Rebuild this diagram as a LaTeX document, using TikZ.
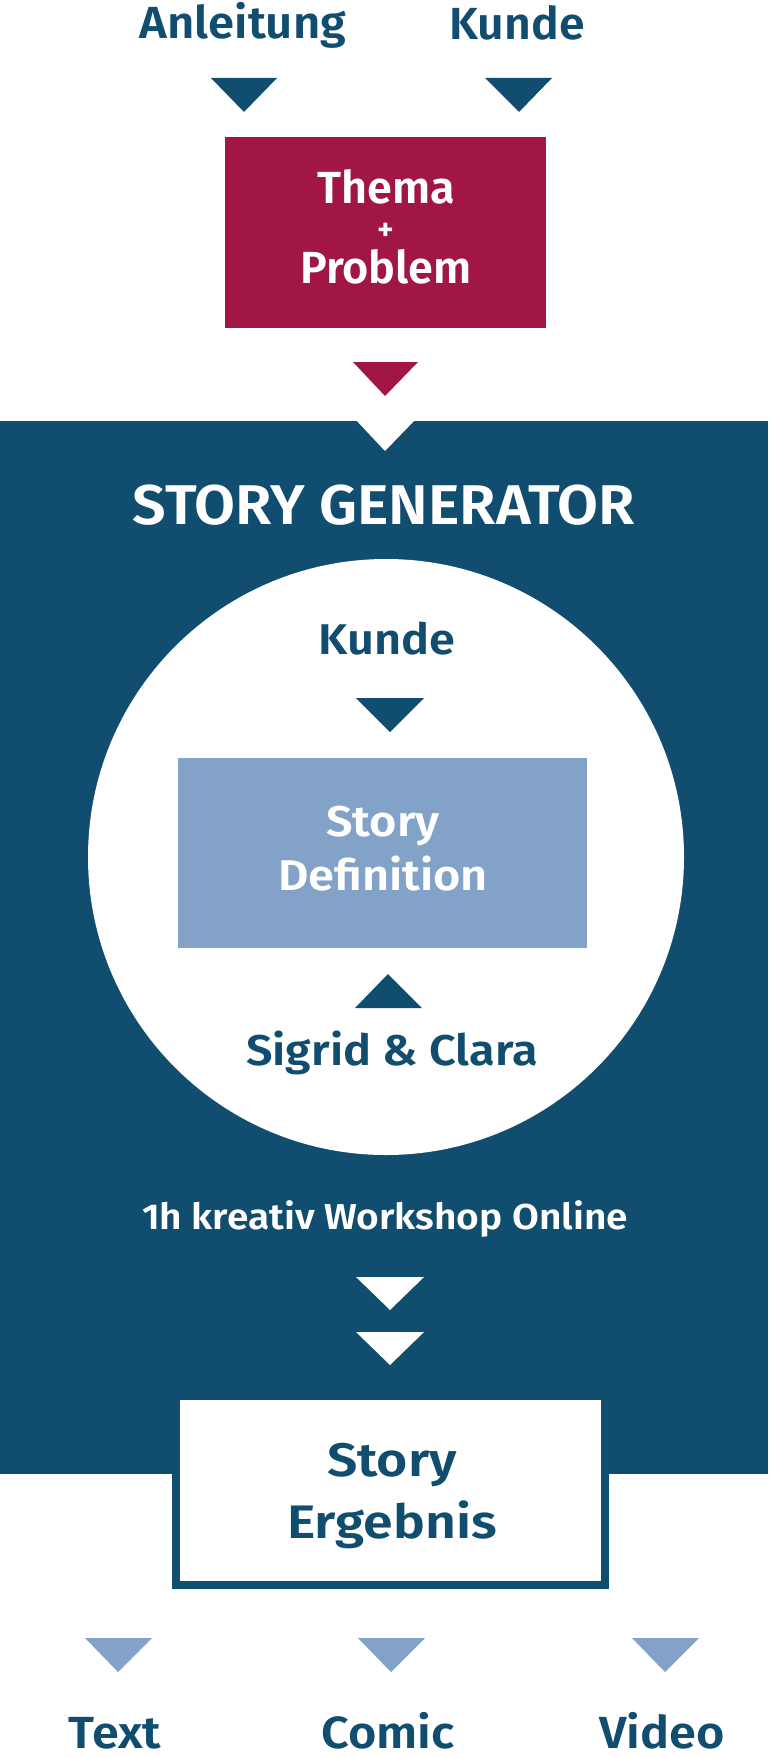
\documentclass[tikz,border=0pt]{standalone}
\usepackage{fontspec}
\setmainfont{Fira Sans SemiBold}
\definecolor{navy}{RGB}{17,77,111}
\definecolor{berry}{RGB}{161,22,69}
\definecolor{paleblue}{RGB}{130,162,200}
\newcommand{\wide}[1]{\addfontfeature{FakeStretch=#1}}
\begin{document}
\begin{tikzpicture}[x=1pt,y=-1pt,
  every node/.style={inner sep=0pt, anchor=base},
  big/.style={font=\fontsize{45}{54}\selectfont},
  mid/.style={font=\fontsize{43}{52}\selectfont\wide{1.09}},
  small/.style={font=\fontsize{36}{42}\selectfont\wide{1.08}}]
  \useasboundingbox (0,0) rectangle (768,1758);
  % inputs
  \node[font=\fontsize{45}{54}\selectfont\wide{1.05}, text=navy] (anleitung) at (243,39) {Anleitung};
  \node[font=\fontsize{45}{54}\selectfont\wide{1.03}, text=navy] (kunde) at (517,40) {Kunde};
  \fill[navy] (211,78) -- (277,78) -- (244,112) -- cycle;
  \fill[navy] (485,78) -- (552,78) -- (519,112) -- cycle;
  % topic box
  \fill[berry] (225,137) rectangle (546,328);
  \node[big, text=white] (thema) at (386,203) {Thema};
  \node[font=\fontsize{32}{38}\selectfont, text=white] (plus) at (386,240) {+};
  \node[big, text=white] (problem) at (386,283) {Problem};
  \fill[berry] (353,362) -- (418,362) -- (385,396) -- cycle;
  % generator panel
  \fill[navy] (0,421) rectangle (768,1474);
  \fill[white] (355,419) -- (416,419) -- (385,451) -- cycle;
  \node[font=\fontsize{56}{66}\selectfont\wide{1.06}, text=white] (gen) at (384,524) {STORY GENERATOR};
  \fill[white] (386,857) circle (298);
  \node[mid, text=navy] (kunde2) at (387,654) {Kunde};
  \fill[navy] (356,698) -- (424,698) -- (390,732) -- cycle;
  \fill[paleblue] (178,758) rectangle (587,948);
  \node[mid, text=white] (story) at (383,836) {Story};
  \node[mid, text=white] (definition) at (383,890) {Definition};
  \fill[navy] (355,1008) -- (422,1008) -- (388,974) -- cycle;
  \node[mid, text=navy] (team) at (392,1065) {Sigrid \& Clara};
  \node[small, text=white] (workshop) at (385,1229) {1h kreativ Workshop Online};
  \foreach \y in {1277,1332}
  {
    \fill[white] (356,\y) -- (424,\y) -- (390,\y+33) -- cycle;
  }
  % result
  \draw[navy, line width=8pt, fill=white] (176,1396) rectangle (605,1585);
  \node[font=\fontsize{47}{56}\selectfont\wide{1.14}, text=navy] (story2) at (392,1476) {Story};
  \node[font=\fontsize{47}{56}\selectfont\wide{1.14}, text=navy] (ergebnis) at (392,1538) {Ergebnis};
  % outputs
  \foreach \x/\t in {118/Text,391/Comic,665/Video}
  {
    \fill[paleblue] (\x-33,1638) -- (\x+34,1638) -- (\x,1672) -- cycle;
    \node[font=\fontsize{45}{54}\selectfont\wide{1.08}, text=navy] (\t) at (\x-3,1748) {\t};
  }
\end{tikzpicture}
\end{document}
